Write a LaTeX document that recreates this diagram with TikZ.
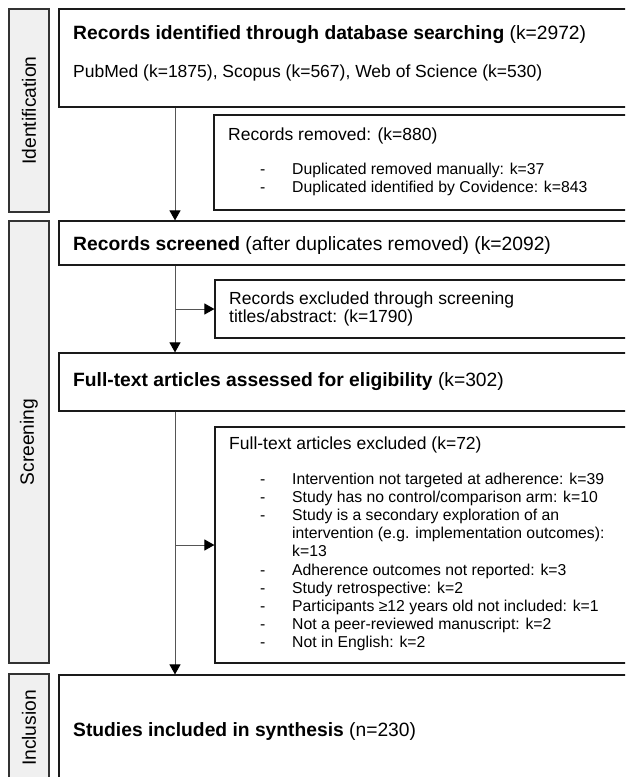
\documentclass[tikz,border=0pt]{standalone}
\usepackage{fontspec}
\setmainfont{Liberation Sans}
\usetikzlibrary{arrows.meta,fit}

\definecolor{barfill}{HTML}{F0F0F0}
\definecolor{barline}{HTML}{333333}
\definecolor{boxline}{HTML}{1A1A1A}
\definecolor{arrline}{HTML}{555555}

\newcommand{\headfont}{\fontsize{19.25}{22}\selectfont}
\newcommand{\bodyfont}{\fontsize{17.5}{20}\selectfont}
\newcommand{\listfont}{\fontsize{15.75}{18}\selectfont}

\tikzset{
  phasebar/.style={draw=barline, fill=barfill, line width=1.2pt, inner sep=0pt},
  flowbox/.style={draw=boxline, fill=white, line width=1.2pt, inner sep=0pt},
  txt/.style={anchor=base west, inner sep=0pt},
  arr/.style={draw=arrline, line width=1pt, -{Triangle[length=10pt,width=11pt,color=black]}},
}

\begin{document}
\begin{tikzpicture}[x=1pt, y=-1pt]
				\useasboundingbox (0,0) rectangle (625,777);
				\clip (0,0) rectangle (625,777);
				
				% Phase bars
				\node[phasebar, fit={(9,9) (49,212)}] (idbar) {};
				\node[phasebar, fit={(9,221) (49,663)}] (scbar) {};
				\node[phasebar, fit={(9,674) (49,782)}] (inbar) {};
				\node[rotate=90, font=\headfont] (l-ident) at (idbar.center) {Identification};
				\node[rotate=90, font=\headfont] (l-screen) at (scbar.center) {Screening};
				\node[rotate=90, font=\headfont] (l-incl) at (inbar.center) {Inclusion};
				
				% Boxes
				\node[flowbox, fit={(59,9) (640,107)}] (ident) {};
				\node[flowbox, fit={(214,115) (640,210)}] (removed) {};
				\node[flowbox, fit={(59,221) (640,265)}] (screened) {};
				\node[flowbox, fit={(215,280) (640,338)}] (excl1) {};
				\node[flowbox, fit={(59,353) (640,411)}] (fulltext) {};
				\node[flowbox, fit={(215,427) (640,663)}] (excl2) {};
				\node[flowbox, fit={(59,675) (640,790)}] (included) {};
				
				% Texts
				\node[txt, font=\headfont] (t-ident) at (73,39) {\textbf{Records identified through database searching} (k=2972)};
				\node[txt, font=\bodyfont] (t-db) at (73,77) {PubMed (k=1875), Scopus (k=567), Web of Science (k=530)};
				
				\node[txt, font=\bodyfont] (t-removed) at (228,140) {Records removed: (k=880)};
				\foreach \txt [count=\i] in {Duplicated removed manually: k=37, Duplicated identified by Covidence: k=843} {
					\node[txt, font=\listfont] (rd-\i) at (260,156+18*\i) {-};
					\node[txt, font=\listfont] (r-\i) at (292,156+18*\i) {\txt};
				}
				
				\node[txt, font=\headfont] (t-screened) at (73,250) {\textbf{Records screened} (after duplicates removed) (k=2092)};
				\node[txt, font=\bodyfont] (t-excl1a) at (229,304) {Records excluded through screening};
				\node[txt, font=\bodyfont] (t-excl1b) at (229,322) {titles/abstract: (k=1790)};
				
				\node[txt, font=\headfont] (t-full) at (73,386) {\textbf{Full-text articles assessed for eligibility} (k=302)};
				\node[txt, font=\bodyfont] (t-excl2) at (229,449) {Full-text articles excluded (k=72)};
				\foreach \d/\txt [count=\i] in {-/{Intervention not targeted at adherence: k=39},
					-/{Study has no control/comparison arm: k=10},
					-/{Study is a secondary exploration of an},
					{}/{intervention (e.g. implementation outcomes):},
					{}/{k=13},
					-/{Adherence outcomes not reported: k=3},
					-/{Study retrospective: k=2},
					-/{Participants ≥12 years old not included: k=1},
					-/{Not a peer-reviewed manuscript: k=2},
					-/{Not in English: k=2}} {
					\node[txt, font=\listfont] (ed-\i) at (260,465.8+18.2*\i) {\d};
					\node[txt, font=\listfont] (e-\i) at (292,465.8+18.2*\i) {\txt};
				}
				
				\node[txt, font=\headfont] (t-incl) at (73,736) {\textbf{Studies included in synthesis} (n=230)};
				
				% Arrows
				\coordinate (col) at (175,0);
				\draw[arr] (ident.south -| col) -- (screened.north -| col);
				\draw[arr] (screened.south -| col) -- (fulltext.north -| col);
				\draw[arr] (col |- excl1.west) -- (excl1.west);
				\draw[arr] (fulltext.south -| col) -- (included.north -| col);
				\draw[arr] (col |- excl2.west) -- (excl2.west);
			\end{tikzpicture}
\end{document}
